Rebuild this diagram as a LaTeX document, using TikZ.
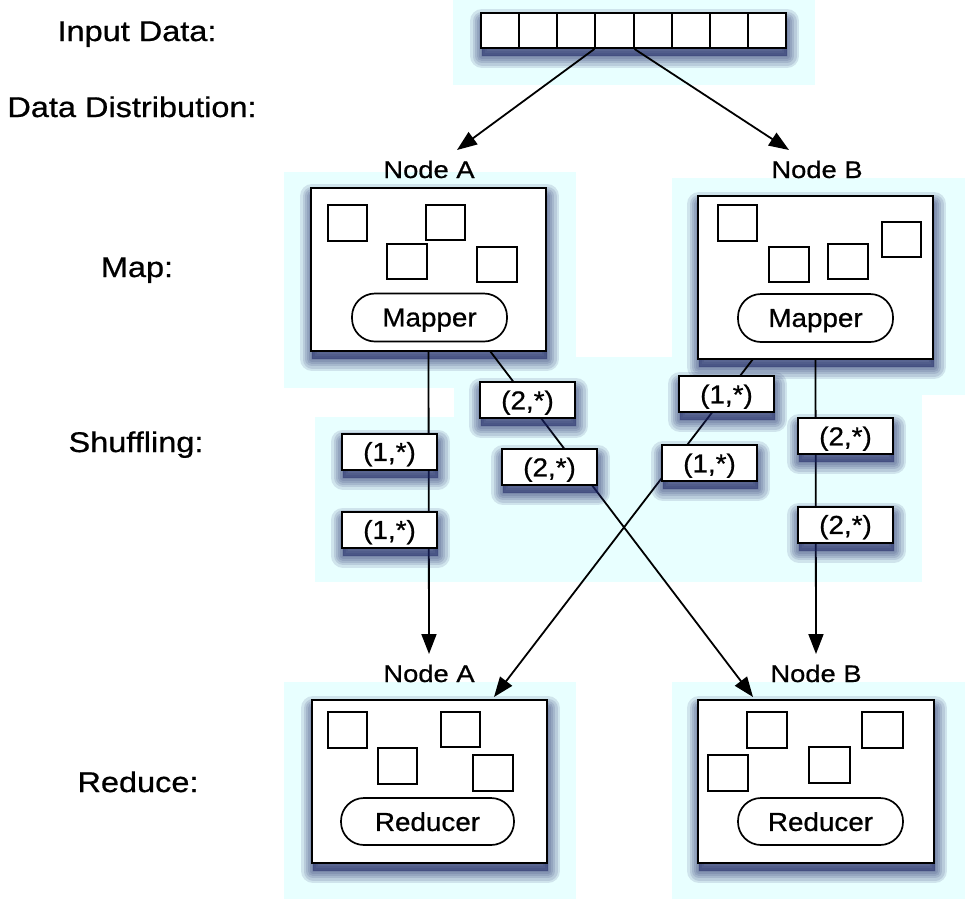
\documentclass[tikz,border=0pt]{standalone}
\usepackage{fontspec}
\setmainfont[FakeStretch=1.07,FakeBold=0.7]{Liberation Sans}
\newfontfamily\lblfont[FakeStretch=1.14,FakeBold=0.7]{Liberation Sans}
\usetikzlibrary{arrows.meta,calc}
\definecolor{bgc}{RGB}{232,255,255}
\definecolor{shc}{RGB}{28,36,100}
\begin{document}
\begin{tikzpicture}[x=1pt,y=-1pt,
  shl/.style={preaction={fill=shc, draw=shc, opacity=0.12, line width=#1, line join=round, transform canvas={shift={(1pt,-8pt)}}}},
  shadowed/.style={shl=24pt, shl=19pt, shl=14pt, shl=10pt, shl=6pt, shl=2pt},
  box/.style={draw, line width=2pt, fill=white, inner sep=0pt, shadowed},
  cell/.style={draw, line width=2pt, fill=white, inner sep=0pt, minimum width=38.125pt, minimum height=35pt},
  sq/.style={draw, line width=1.7pt},
  pill/.style={draw, line width=1.7pt, rounded corners=23pt, inner sep=0pt, text depth=0pt, font=\fontsize{26}{30}\selectfont},
  tag/.style={box, minimum width=95pt, minimum height=36pt, text depth=0pt, font=\fontsize{26}{30}\selectfont},
  lbl/.style={anchor=base, inner sep=0pt, font=\lblfont\fontsize{28.5}{33}\selectfont},
  nlbl/.style={anchor=base, inner sep=0pt, font=\lblfont\fontsize{24}{28}\selectfont},
  arr/.style={line width=1.8pt, -{Triangle[length=20pt,width=15pt]}}
]
\useasboundingbox (0,0) rectangle (965,900);
% light backgrounds
\fill[bgc] (453,0) rectangle (815,85);
\fill[bgc] (284,172) rectangle (576,388);
\fill[bgc] (672,178) rectangle (965,395);
\fill[bgc] (315,417) rectangle (467,582);
\fill[bgc] (454,357) rectangle (922,582);
\fill[bgc] (284,682) rectangle (576,899);
\fill[bgc] (672,682) rectangle (965,899);

% left labels
\node[lbl] (tIn) at (137,41) {Input Data:};
\node[lbl] (tDist) at (132,117) {Data Distribution:};
\node[lbl] (tMap) at (137,277) {Map:};
\node[lbl] (tShuf) at (136,452) {Shuffling:};
\node[lbl] (tRed) at (138,792) {Reduce:};

% input array
\node[box, minimum width=305pt, minimum height=35pt] (inarr) at (633.5,30.5) {};
\foreach \i in {1,...,8}
  \node[cell] (c\i) at ({481+38.125*(\i-0.5)},30.5) {};

% node labels
\node[nlbl] (lA) at (429,178) {Node A};
\node[nlbl] (lB) at (817,178) {Node B};
\node[nlbl] (lRA) at (429,682) {Node A};
\node[nlbl] (lRB) at (816,682) {Node B};

% map boxes
\node[box, minimum width=235pt, minimum height=163pt] (mapA) at (428.5,269.5) {};
\node[box, minimum width=235pt, minimum height=163pt] (mapB) at (815.5,277.5) {};
\draw[sq] (328,205) rectangle (367,241);
\draw[sq] (426,205) rectangle (465,240);
\draw[sq] (387,244) rectangle (427,279);
\draw[sq] (477,247) rectangle (517,282);
\draw[sq] (718,205) rectangle (757,241);
\draw[sq] (769,247) rectangle (809,282);
\draw[sq] (828,244) rectangle (868,279);
\draw[sq] (882,222) rectangle (921,257);
\node[pill, minimum width=155pt, minimum height=48pt] (mpA) at (429.5,317.5) {Mapper};
\node[pill, minimum width=155pt, minimum height=48pt] (mpB) at (815.5,318) {Mapper};

% reduce boxes
\node[box, minimum width=235pt, minimum height=163pt] (redA) at (429.5,781.5) {};
\node[box, minimum width=236pt, minimum height=163pt] (redB) at (816,781.5) {};
\draw[sq] (328,712) rectangle (367,748);
\draw[sq] (441,712) rectangle (480,747);
\draw[sq] (378,748) rectangle (417,784);
\draw[sq] (473,755) rectangle (513,791);
\draw[sq] (747,712) rectangle (787,748);
\draw[sq] (862,712) rectangle (903,748);
\draw[sq] (708,755) rectangle (748,791);
\draw[sq] (809,747) rectangle (850,783);
\node[pill, minimum width=173pt, minimum height=47pt] (rdA) at (427.5,821.5) {Reducer};
\node[pill, minimum width=165pt, minimum height=47pt] (rdB) at (820.5,821.5) {Reducer};

% connector end points
\coordinate (dA) at (490,351);
\coordinate (dB) at (753,359);
\coordinate (tA) at (429,654);
\coordinate (tB) at (816,654);
\coordinate (tXA) at (494,697);
\coordinate (tXB) at (753,697);
\coordinate (tIA) at (457,150);
\coordinate (tIB) at (789,150);

% connectors
\draw[arr] (c4.south west) -- (tIA);
\draw[arr] (c4.south east) -- (tIB);
\draw[arr] (mapA.south) -- (tA);
\draw[arr] (mapB.south) -- (tB);
\draw[arr] (dA) -- (tXB);
\draw[arr] (dB) -- (tXA);

% shuffle tags
\node[tag] (a1) at (389.5,451.5) {(1,*)};
\node[tag] (a2) at (389.5,529.5) {(1,*)};
\node[tag] (x1) at (527.5,400) {(2,*)};
\node[tag] (x2) at (549.5,467) {(2,*)};
\node[tag] (y1) at (726.5,394) {(1,*)};
\node[tag] (y2) at (709.5,463) {(1,*)};
\node[tag] (b1) at (845.5,436) {(2,*)};
\node[tag] (b2) at (845.5,524.5) {(2,*)};
\end{tikzpicture}
\end{document}
